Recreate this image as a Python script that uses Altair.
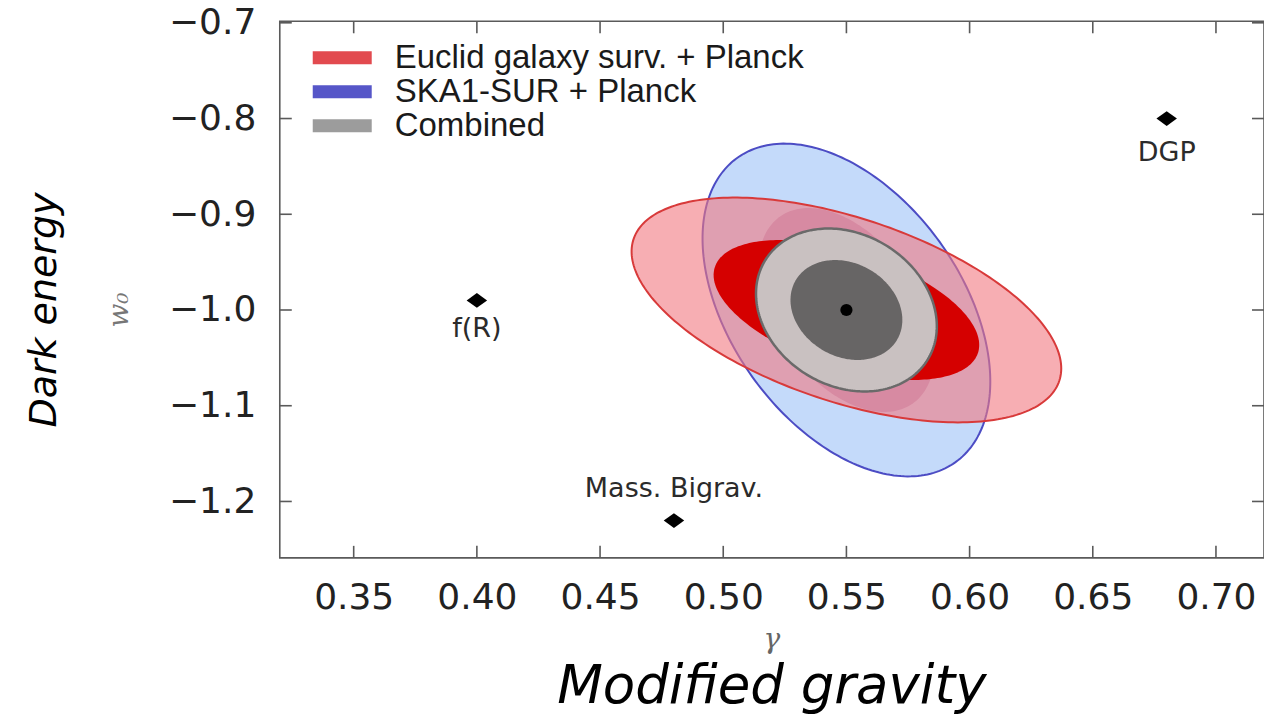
import numpy as np
import pandas as pd
import altair as alt

# ---------------- data ----------------
series = ["Euclid galaxy surv. + Planck", "SKA1-SUR + Planck", "Combined"]
legend_colors = ["#e24a4f", "#5656c8", "#9c9c9c"]

fid_gamma = 0.55
fid_w0 = -1.0

# forecast ellipses: half-extent in gamma, half-extent in w0, correlation
ell_names = ["SKA 2sig", "SKA 1sig", "Euclid 2sig", "Euclid 1sig", "Comb 2sig", "Comb 1sig"]
ell_sx = [0.0584, 0.0357, 0.0872, 0.0539, 0.0367, 0.0227]
ell_sy = [0.1738, 0.1065, 0.1174, 0.0731, 0.0851, 0.0522]
ell_rho = [-0.43, -0.43, -0.52, -0.50, -0.20, -0.20]

models = ["DGP", "f(R)", "Mass. Bigrav."]
model_gamma = [0.68, 0.40, 0.48]
model_w0 = [-0.80, -0.99, -1.22]

x_ticks = [0.35, 0.40, 0.45, 0.50, 0.55, 0.60, 0.65, 0.70]
y_ticks = [-0.7, -0.8, -0.9, -1.0, -1.1, -1.2]

W, H = 985, 537
TL = 12

def ellipse(k, n=240):
    t = np.linspace(0, 2 * np.pi, n)
    r = ell_rho[k]
    g = fid_gamma + ell_sx[k] * np.cos(t)
    w = fid_w0 + ell_sy[k] * (r * np.cos(t) + np.sqrt(1 - r * r) * np.sin(t))
    return pd.DataFrame({"g": g, "w": w, "i": np.arange(n)})

xs = alt.Scale(domain=[0.32, 0.7195], nice=False, zero=False)
ys = alt.Scale(domain=[-1.2589, -0.6984], nice=False, zero=False)
xaxis = alt.Axis(values=x_ticks, format=".2f", title=None, ticks=False, tickSize=0,
                 domain=False, grid=False, labelFont="DejaVu Sans", labelFontSize=36,
                 labelColor="#222222", labelPadding=23)
yaxis = alt.Axis(values=y_ticks, format=".1f", title=None, ticks=False, tickSize=0,
                 domain=False, grid=False, labelFont="DejaVu Sans", labelFontSize=36,
                 labelColor="#222222", labelPadding=24)
X = alt.X("g:Q", scale=xs, axis=xaxis)
Y = alt.Y("w:Q", scale=ys, axis=yaxis)

styles = [
    dict(fill="#c4dafa", stroke="#4c4cc4", strokeWidth=2),
    dict(fill="#afa5d4", strokeWidth=0),
    dict(fill="#f27880", fillOpacity=0.6, stroke="#d83a3a", strokeWidth=2),
    dict(fill="#d50000", strokeWidth=0),
    dict(fill="#c9c1c1", stroke="#6a6a6a", strokeWidth=2.5),
    dict(fill="#676565", strokeWidth=0),
]

layers = []
for k in range(len(ell_names)):
    st = styles[k]
    layers.append(
        alt.Chart(ellipse(k)).mark_line(**st).encode(x=X, y=Y, order=alt.Order("i:Q"))
    )

fid = pd.DataFrame({"g": [fid_gamma], "w": [fid_w0]})
layers.append(alt.Chart(fid).mark_point(filled=True, color="black", size=150, opacity=1).encode(x=X, y=Y))

mdf = pd.DataFrame({"g": model_gamma, "w": model_w0, "name": models})
diamond = "M-1,0L0,-0.72L1,0L0,0.72Z"
layers.append(alt.Chart(mdf).mark_point(shape=diamond, filled=True, color="black", size=420, opacity=1).encode(x=X, y=Y))
for nm, dy in zip(models, [34, 29, -32]):
    layers.append(
        alt.Chart(mdf[mdf["name"] == nm]).mark_text(font="DejaVu Sans", fontSize=27, color="#2b2b2b", dy=dy)
        .encode(x=X, y=Y, text="name:N")
    )

# inside ticks on all four sides
xt = pd.DataFrame({"g": x_ticks})
yt = pd.DataFrame({"w": y_ticks})
tick_style = dict(color="#5a5a5a", strokeWidth=1.6)
layers.append(alt.Chart(xt).mark_rule(**tick_style).encode(x=X, y=alt.value(H), y2=alt.value(H - TL)))
layers.append(alt.Chart(xt).mark_rule(**tick_style).encode(x=X, y=alt.value(0), y2=alt.value(TL)))
layers.append(alt.Chart(yt).mark_rule(**tick_style).encode(y=Y, x=alt.value(0), x2=alt.value(TL)))
layers.append(alt.Chart(yt).mark_rule(**tick_style).encode(y=Y, x=alt.value(W), x2=alt.value(W - TL)))

# legend (invisible carrier layer)
ldf = pd.DataFrame({"series": series, "g": [fid_gamma] * 3, "w": [fid_w0] * 3})
patch = "M-4.4,-0.97L4.4,-0.97L4.4,0.97L-4.4,0.97Z"
layers.append(
    alt.Chart(ldf).mark_square(opacity=0).encode(
        x=X, y=Y,
        color=alt.Color("series:N", scale=alt.Scale(domain=series, range=legend_colors),
                        legend=alt.Legend(title=None, orient="none", legendX=46, legendY=20,
                                          symbolType=patch, symbolSize=180, symbolOpacity=1,
                                          symbolStrokeWidth=0, labelFont="Liberation Sans",
                                          labelFontSize=33, labelColor="#1a1a1a", labelOffset=36,
                                          rowPadding=0, padding=0, labelLimit=700)),
    )
)

# outer labels
def label(txt, x, y, **kw):
    return alt.Chart(pd.DataFrame({"t": [txt]})).mark_text(**kw).encode(
        text="t:N", x=alt.value(x), y=alt.value(y))

layers.append(label("γ", W / 2, 619, font="DejaVu Serif", fontStyle="italic", fontSize=28, color="#666666"))
layers.append(label("Modified gravity", W / 2, 666, font="DejaVu Sans", fontStyle="italic", fontSize=53, color="#000000"))
layers.append(label("w₀", -160, 289, font="DejaVu Serif", fontStyle="italic", fontSize=28, color="#777777", angle=270))
layers.append(label("Dark energy", -235, 289, font="DejaVu Sans", fontStyle="italic", fontSize=38, color="#000000", angle=270))

chart = alt.layer(*layers).properties(
    width=W, height=H,
    background="white",
    autosize=alt.AutoSizeParams(type="none"),
    padding={"left": 272, "top": 13, "right": 0, "bottom": 162},
).configure_view(stroke="#5a5a5a", strokeWidth=1.6)

chart.save("out.html", embed_options={"renderer": "svg", "actions": False})
